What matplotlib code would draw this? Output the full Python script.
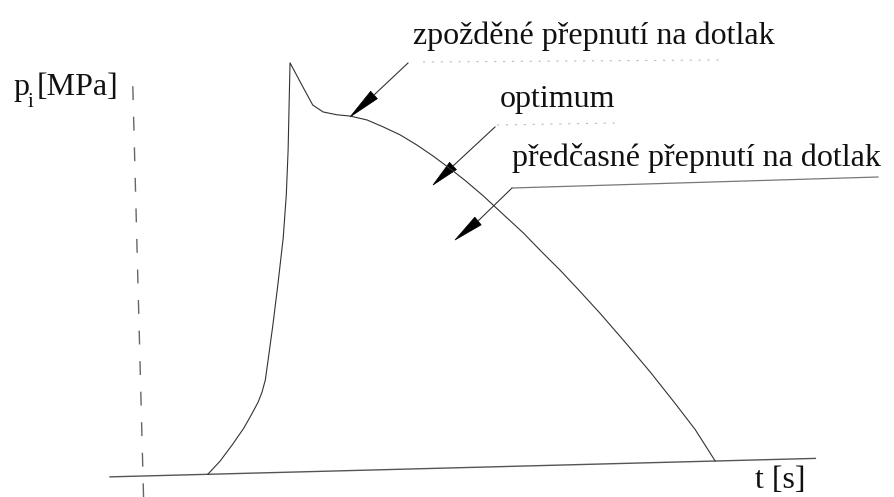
import numpy as np
import matplotlib
matplotlib.use("Agg")
import matplotlib.pyplot as plt
from matplotlib.transforms import Affine2D
from matplotlib.patches import Polygon

# Injection pressure course p_i(t): time [s], cavity pressure [MPa]
t_curve = [1.08, 1.29, 1.50, 1.70, 1.84, 1.95, 2.02, 2.08, 2.13, 2.23, 2.33,
           2.44, 2.51, 2.56, 2.60, 2.63, 2.84, 2.99, 3.16, 3.39, 3.61, 3.89,
           4.15, 4.43, 4.71, 4.97, 5.25, 5.50, 5.79, 6.11, 6.44, 6.76, 7.04,
           7.36, 7.69, 8.09, 8.50, 8.90, 9.22, 9.54]
p_curve = [0.00, 0.32, 0.72, 1.13, 1.48, 1.77, 2.02, 2.32, 2.77, 3.69, 4.69,
           5.86, 6.93, 8.05, 9.30, 10.23, 9.60, 9.16, 8.98, 8.90, 8.86, 8.75,
           8.57, 8.36, 8.09, 7.81, 7.48, 7.17, 6.78, 6.31, 5.83, 5.31, 4.87,
           4.33, 3.76, 3.03, 2.26, 1.46, 0.80, 0.00]

# Axis extents
t_axis = [-0.55, 11.21]
p_axis = [-0.53, 9.86]

labels = ["zpožděné přepnutí na dotlak", "optimum", "předčasné přepnutí na dotlak"]
y_label_main, y_label_sub, y_label_unit = "p", "i", "[MPa]"
x_label = "t [s]"

serif = ["Liberation Serif", "DejaVu Serif"]
ink = "#333333"

fig = plt.figure(figsize=(8.95, 4.97), dpi=100)
ax = fig.add_axes([0, 0, 1, 1])
ax.set_xlim(0, 895)
ax.set_ylim(497, 0)
ax.axis("off")

# chart frame: slightly rotated sheet, origin at the axes crossing
chart = Affine2D().scale(60, -40).rotate_deg(-1.5).translate(143, 476) + ax.transData

# axes
ax.plot(t_axis, [0, 0], color="#555555", lw=1.0, transform=chart)
ax.plot([0, 0], p_axis, color="#666666", lw=1.0, ls=(0, (10, 12)), transform=chart)

# pressure curve
ax.plot(t_curve, p_curve, color=ink, lw=0.8, transform=chart,
        solid_joinstyle="round")


def pointer(tip, base, end, width=10):
    tip = np.asarray(tip, float)
    base = np.asarray(base, float)
    d = base - tip
    n = np.array([-d[1], d[0]]) / np.hypot(*d)
    head = Polygon([tip, base + n * width / 2, base - n * width / 2],
                   closed=True, facecolor="black", edgecolor="black", lw=0.5)
    ax.add_patch(head)
    ax.plot([base[0], end[0]], [base[1], end[1]], color=ink, lw=0.8)


# callouts
pointer((350, 117), (374, 95), (408, 63))
ax.plot([423, 720], [62, 60], color="#bbbbbb", lw=0.8, ls=(0, (2, 6)))
pointer((433, 185), (453, 166), (495, 127))
ax.plot([497, 617], [125, 123], color="#bbbbbb", lw=0.8, ls=(0, (2, 6)))
pointer((455, 240), (478, 221), (512, 188))
ax.plot([512, 878], [188, 177], color="#777777", lw=0.9)

fs = 23
ax.text(413, 44, labels[0], fontsize=fs, family=serif, color="#111111",
        ha="left", va="baseline")
ax.text(500, 107, labels[1], fontsize=fs, family=serif, color="#111111",
        ha="left", va="baseline")
ax.text(512, 166, labels[2], fontsize=fs, family=serif, color="#111111",
        ha="left", va="baseline")

ax.text(13, 95, y_label_main, fontsize=fs, family=serif, color="#111111",
        ha="left", va="baseline")
ax.text(28, 107, y_label_sub, fontsize=15, family=serif, color="#111111",
        ha="left", va="baseline")
ax.text(37, 95, y_label_unit, fontsize=fs, family=serif, color="#111111",
        ha="left", va="baseline")
ax.text(755, 488, x_label, fontsize=fs, family=serif, color="#111111",
        ha="left", va="baseline")

fig.savefig("out.png", dpi=100, facecolor="white")
